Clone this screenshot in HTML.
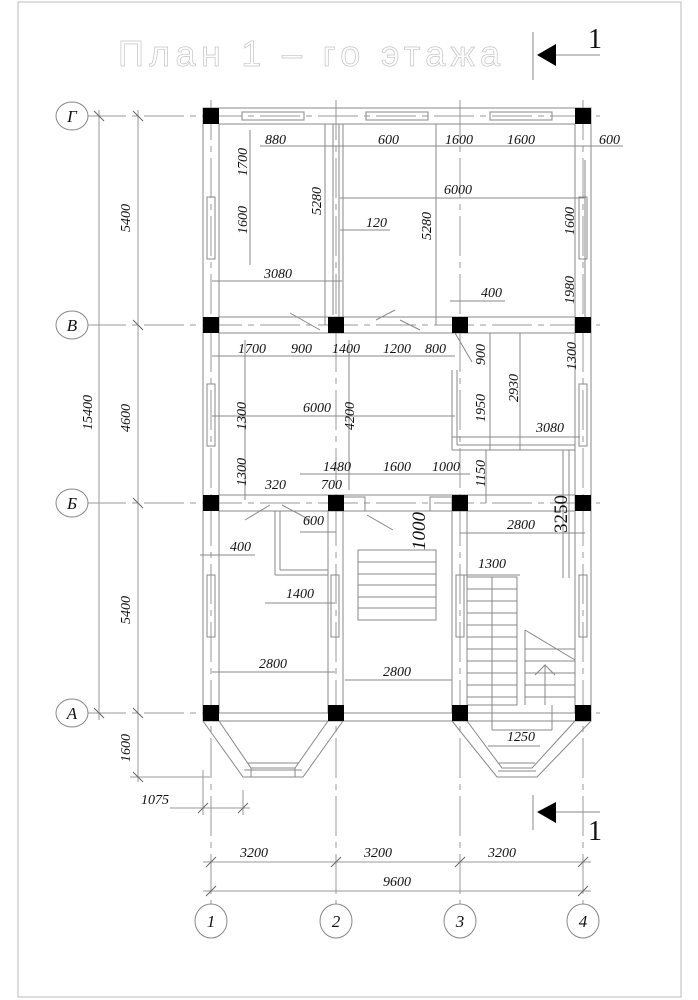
<!DOCTYPE html>
<html><head><meta charset="utf-8"><style>
html,body{margin:0;padding:0;background:#fff}
svg{display:block}
.t{font-family:"Liberation Serif",serif;font-style:italic;font-size:14px;fill:#111}
.ax{font-family:"Liberation Serif",serif;font-style:italic;font-size:17px;fill:#111}
</style></head><body>
<svg width="698" height="1000" viewBox="0 0 698 1000" xmlns="http://www.w3.org/2000/svg">
<rect x="18" y="2" width="663" height="995" fill="none" stroke="#bbb" stroke-width="1"/>
<!-- title -->
<text x="118" y="66" font-family="Liberation Sans, DejaVu Sans, sans-serif" font-size="36" fill="none" stroke="#c4c4c4" stroke-width="0.7" textLength="382" lengthAdjust="spacing">План 1 – го этажа</text>
<line x1="533" y1="32" x2="533" y2="80" stroke="#888"/>
<polygon points="537,55 556,44 556,66" fill="#000"/>
<line x1="556" y1="55" x2="600" y2="55" stroke="#888"/>
<text x="588" y="48" font-family="Liberation Serif,serif" font-size="28" fill="#111">1</text>
<line x1="533" y1="795" x2="533" y2="830" stroke="#888"/>
<polygon points="537,812 556,802 556,823" fill="#000"/>
<line x1="556" y1="812" x2="600" y2="812" stroke="#888"/>
<text x="588" y="840" font-family="Liberation Serif,serif" font-size="28" fill="#111">1</text>

<g stroke="#999" stroke-width="1" fill="none">
<line x1="86" y1="116" x2="600" y2="116" stroke-dasharray="40,6,6,6"/>
<line x1="86" y1="325" x2="600" y2="325" stroke-dasharray="40,6,6,6"/>
<line x1="86" y1="503" x2="600" y2="503" stroke-dasharray="40,6,6,6"/>
<line x1="86" y1="713" x2="600" y2="713" stroke-dasharray="40,6,6,6"/>
<line x1="211" y1="100" x2="211" y2="905" stroke-dasharray="40,6,6,6"/>
<line x1="336" y1="100" x2="336" y2="905" stroke-dasharray="40,6,6,6"/>
<line x1="460" y1="100" x2="460" y2="905" stroke-dasharray="40,6,6,6"/>
<line x1="583" y1="100" x2="583" y2="905" stroke-dasharray="40,6,6,6"/>
<line x1="99" y1="110" x2="99" y2="720"/>
<line x1="138" y1="110" x2="138" y2="782"/>
<line x1="130" y1="777" x2="210" y2="777"/>
<g stroke="#666">
<line x1="94" y1="111" x2="104" y2="121"/><line x1="94" y1="708" x2="104" y2="718"/>
<line x1="133" y1="111" x2="143" y2="121"/><line x1="133" y1="320" x2="143" y2="330"/>
<line x1="133" y1="498" x2="143" y2="508"/><line x1="133" y1="708" x2="143" y2="718"/>
<line x1="133" y1="772" x2="143" y2="782"/>
</g>
<line x1="203" y1="862" x2="591" y2="862"/>
<line x1="203" y1="891" x2="591" y2="891"/>
<line x1="170" y1="808" x2="250" y2="808"/>
<line x1="243" y1="790" x2="243" y2="815"/>
<line x1="203" y1="770" x2="203" y2="815"/>
<g stroke="#666">
<line x1="206" y1="867" x2="216" y2="857"/><line x1="331" y1="867" x2="341" y2="857"/>
<line x1="455" y1="867" x2="465" y2="857"/><line x1="578" y1="867" x2="588" y2="857"/>
<line x1="206" y1="896" x2="216" y2="886"/><line x1="578" y1="896" x2="588" y2="886"/>
<line x1="198" y1="813" x2="208" y2="803"/><line x1="238" y1="813" x2="248" y2="803"/>
</g>

<g stroke="#888">
<rect x="203" y="108" width="388" height="613"/>
<rect x="219" y="124" width="356" height="589"/>
<line x1="325" y1="124" x2="325" y2="325"/><line x1="343" y1="124" x2="343" y2="325"/><line x1="339" y1="124" x2="339" y2="325"/>
<line x1="436" y1="124" x2="436" y2="325"/>
<line x1="219" y1="317" x2="575" y2="317"/><line x1="219" y1="333" x2="575" y2="333"/>
<line x1="219" y1="495" x2="575" y2="495"/><line x1="219" y1="511" x2="575" y2="511"/>
<line x1="452" y1="370" x2="452" y2="450"/><line x1="457" y1="370" x2="457" y2="445"/>
<line x1="452" y1="450" x2="575" y2="450"/><line x1="457" y1="445" x2="575" y2="445"/>
<line x1="563" y1="450" x2="563" y2="578"/>
<line x1="328" y1="511" x2="328" y2="713"/><line x1="343" y1="511" x2="343" y2="713"/>
<line x1="452" y1="511" x2="452" y2="713"/><line x1="467" y1="511" x2="467" y2="713"/>
<line x1="275" y1="511" x2="275" y2="575"/><line x1="280" y1="511" x2="280" y2="570"/>
<line x1="275" y1="575" x2="328" y2="575"/><line x1="280" y1="570" x2="328" y2="570"/>
<rect x="242" y="112" width="62" height="8"/><rect x="366" y="112" width="62" height="8"/><rect x="490" y="112" width="62" height="8"/>
<rect x="207" y="197" width="8" height="62"/><rect x="579" y="197" width="8" height="62"/>
<rect x="207" y="384" width="8" height="62"/><rect x="579" y="384" width="8" height="62"/>
<rect x="207" y="575" width="8" height="62"/><rect x="579" y="575" width="8" height="62"/>
<rect x="331" y="575" width="8" height="62"/><rect x="456" y="575" width="8" height="62"/>
<line x1="290" y1="313" x2="320" y2="330"/><line x1="376" y1="320" x2="395" y2="310"/><line x1="400" y1="320" x2="420" y2="330"/>
<line x1="455" y1="333" x2="472" y2="362"/>
<line x1="245" y1="520" x2="270" y2="505"/><line x1="282" y1="505" x2="310" y2="520"/>
<line x1="367" y1="515" x2="393" y2="530"/>
<rect x="343" y="497" width="22" height="14"/><rect x="430" y="497" width="22" height="14"/>
<rect x="358" y="550" width="78" height="70"/>
<line x1="358" y1="562" x2="436" y2="562"/><line x1="358" y1="574" x2="436" y2="574"/><line x1="358" y1="585" x2="436" y2="585"/><line x1="358" y1="597" x2="436" y2="597"/><line x1="358" y1="608" x2="436" y2="608"/>
<line x1="345" y1="680" x2="452" y2="680"/>
<line x1="212" y1="672" x2="335" y2="672"/>
<rect x="467" y="577" width="50" height="128"/>
<line x1="492" y1="577" x2="492" y2="730"/>
<line x1="492" y1="730" x2="552" y2="730"/><line x1="552" y1="730" x2="552" y2="705"/>
<line x1="525" y1="630" x2="525" y2="705"/>
<line x1="525" y1="630" x2="575" y2="660"/>
<line x1="467" y1="589" x2="517" y2="589"/><line x1="467" y1="601" x2="517" y2="601"/><line x1="467" y1="613" x2="517" y2="613"/><line x1="467" y1="625" x2="517" y2="625"/><line x1="467" y1="637" x2="517" y2="637"/><line x1="467" y1="649" x2="517" y2="649"/><line x1="467" y1="661" x2="517" y2="661"/><line x1="467" y1="673" x2="517" y2="673"/><line x1="467" y1="685" x2="517" y2="685"/><line x1="467" y1="697" x2="517" y2="697"/>
<line x1="525" y1="649" x2="575" y2="649"/><line x1="525" y1="661" x2="575" y2="661"/><line x1="525" y1="673" x2="575" y2="673"/><line x1="525" y1="685" x2="575" y2="685"/><line x1="525" y1="697" x2="575" y2="697"/>
<polyline points="545,705 545,665 535,675 545,665 555,675"/>
<polyline points="203,721 243,777 303,777 343,721"/>
<polyline points="219,721 251,768 295,768 328,721"/>
<line x1="251" y1="768" x2="251" y2="777"/><line x1="295" y1="768" x2="295" y2="777"/>
<line x1="247" y1="763" x2="299" y2="763"/><line x1="244" y1="770" x2="302" y2="770"/>
<polyline points="452,721 497,777 537,777 591,721"/>
<polyline points="467,721 502,768 532,768 575,721"/>
<line x1="499" y1="763" x2="535" y2="763"/><line x1="498" y1="771" x2="536" y2="771"/>
<line x1="260" y1="146" x2="623" y2="146"/>
<line x1="340" y1="198" x2="585" y2="198"/>
<line x1="340" y1="230" x2="390" y2="230"/>
<line x1="212" y1="281" x2="342" y2="281"/>
<line x1="450" y1="301" x2="505" y2="301"/>
<line x1="212" y1="356" x2="455" y2="356"/>
<line x1="212" y1="416" x2="455" y2="416"/>
<line x1="452" y1="437" x2="580" y2="437"/>
<line x1="300" y1="474" x2="470" y2="474"/>
<line x1="460" y1="533" x2="585" y2="533"/>
<line x1="200" y1="555" x2="255" y2="555"/>
<line x1="265" y1="603" x2="335" y2="603"/>
<line x1="300" y1="532" x2="336" y2="532"/>
<line x1="460" y1="575" x2="520" y2="575"/>
<line x1="488" y1="746" x2="540" y2="746"/>
<line x1="250" y1="130" x2="250" y2="265"/>
<line x1="333" y1="124" x2="333" y2="315"/>
<line x1="585" y1="160" x2="585" y2="320"/>
<line x1="490" y1="333" x2="490" y2="450"/>
<line x1="520" y1="333" x2="520" y2="450"/>
<line x1="349" y1="340" x2="349" y2="490"/>
<line x1="245" y1="340" x2="245" y2="500"/>
<line x1="486" y1="450" x2="486" y2="503"/>
<line x1="569" y1="450" x2="569" y2="578"/>
</g>
</g>

<g fill="#000">
<rect x="203" y="108" width="16" height="16"/><rect x="575" y="108" width="16" height="16"/>
<rect x="203" y="317" width="16" height="16"/><rect x="328" y="317" width="16" height="16"/><rect x="452" y="317" width="16" height="16"/><rect x="575" y="317" width="16" height="16"/>
<rect x="203" y="495" width="16" height="16"/><rect x="328" y="495" width="16" height="16"/><rect x="452" y="495" width="16" height="16"/><rect x="575" y="495" width="16" height="16"/>
<rect x="203" y="705" width="16" height="16"/><rect x="328" y="705" width="16" height="16"/><rect x="452" y="705" width="16" height="16"/><rect x="575" y="705" width="16" height="16"/>
</g>

<g stroke="#888" fill="#fff">
<ellipse cx="72" cy="116" rx="16" ry="14"/><ellipse cx="72" cy="325" rx="16" ry="14"/><ellipse cx="72" cy="503" rx="16" ry="14"/><ellipse cx="72" cy="713" rx="16" ry="14"/>
<ellipse cx="211" cy="921" rx="16" ry="17"/><ellipse cx="336" cy="921" rx="16" ry="17"/><ellipse cx="460" cy="921" rx="16" ry="17"/><ellipse cx="583" cy="921" rx="16" ry="17"/>
</g>
<g class="ax" text-anchor="middle">
<text x="72" y="122">Г</text><text x="72" y="331">В</text><text x="72" y="509">Б</text><text x="72" y="719">А</text>
<text x="211" y="927">1</text><text x="336" y="927">2</text><text x="460" y="927">3</text><text x="583" y="927">4</text>
</g>

<g class="t">
<text x="265" y="144">880</text><text x="378" y="144">600</text><text x="445" y="144">1600</text><text x="507" y="144">1600</text><text x="599" y="144">600</text>
<text x="444" y="194">6000</text><text x="366" y="227">120</text><text x="264" y="278">3080</text><text x="481" y="297">400</text>
<text x="238" y="353">1700</text><text x="291" y="353">900</text><text x="332" y="353">1400</text><text x="383" y="353">1200</text><text x="425" y="353">800</text>
<text x="303" y="412">6000</text><text x="536" y="432">3080</text>
<text x="323" y="471">1480</text><text x="383" y="471">1600</text><text x="432" y="471">1000</text>
<text x="265" y="489">320</text><text x="321" y="489">700</text><text x="303" y="525">600</text>
<text x="507" y="529">2800</text><text x="230" y="551">400</text><text x="286" y="598">1400</text><text x="478" y="568">1300</text>
<text x="259" y="668">2800</text><text x="383" y="676">2800</text><text x="507" y="741">1250</text>
<text x="240" y="857">3200</text><text x="364" y="857">3200</text><text x="488" y="857">3200</text><text x="383" y="886">9600</text>
<text x="141" y="804">1075</text>
</g>
<g class="t">
<text transform="translate(130,232) rotate(-90)">5400</text>
<text transform="translate(130,432) rotate(-90)">4600</text>
<text transform="translate(130,624) rotate(-90)">5400</text>
<text transform="translate(130,762) rotate(-90)">1600</text>
<text transform="translate(92,430) rotate(-90)">15400</text>
<text transform="translate(247,176) rotate(-90)">1700</text>
<text transform="translate(247,234) rotate(-90)">1600</text>
<text transform="translate(321,215) rotate(-90)">5280</text>
<text transform="translate(431,240) rotate(-90)">5280</text>
<text transform="translate(574,235) rotate(-90)">1600</text>
<text transform="translate(574,304) rotate(-90)">1980</text>
<text transform="translate(485,365) rotate(-90)">900</text>
<text transform="translate(576,370) rotate(-90)">1300</text>
<text transform="translate(518,402) rotate(-90)">2930</text>
<text transform="translate(485,422) rotate(-90)">1950</text>
<text transform="translate(246,430) rotate(-90)">1300</text>
<text transform="translate(354,430) rotate(-90)">4200</text>
<text transform="translate(246,486) rotate(-90)">1300</text>
<text transform="translate(485,487) rotate(-90)">1150</text>
<text transform="translate(425,550) rotate(-90)" style="font-size:19px">1000</text>
<text transform="translate(567,533) rotate(-90)" style="font-size:19px;font-style:normal">3250</text>
</g>
</svg>
</body></html>
